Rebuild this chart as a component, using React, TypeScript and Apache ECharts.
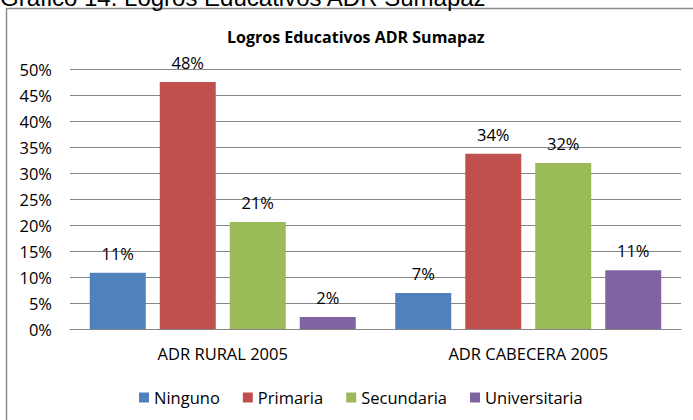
import React, { useEffect, useRef } from "react";
import * as echarts from "echarts";

const categories = ["ADR RURAL 2005", "ADR CABECERA 2005"];
const seriesNames = ["Ninguno", "Primaria", "Secundaria", "Universitaria"];
const ninguno = [0.108, 0.069];
const primaria = [0.475, 0.337];
const secundaria = [0.206, 0.319];
const universitaria = [0.023, 0.113];
const yTicks = [0, 0.05, 0.1, 0.15, 0.2, 0.25, 0.3, 0.35, 0.4, 0.45, 0.5];
const colors = ["#4F81BD", "#C0504D", "#9BBB59", "#8064A2"];

const FONT = "'Open Sans', 'Noto Sans', sans-serif";

export default function App() {
  const ref = useRef<HTMLDivElement>(null);
  useEffect(() => {
    if (!ref.current) return;
    const chart = echarts.init(ref.current, undefined, { renderer: "svg" });
    const values = [ninguno, primaria, secundaria, universitaria];
    chart.setOption({
      animation: false,
      backgroundColor: "#ffffff",
      textStyle: { fontFamily: FONT },
      title: {
        text: "Logros Educativos ADR Sumapaz",
        left: 222,
        top: 24,
        textStyle: { fontFamily: FONT, fontSize: 16, fontWeight: "bold", color: "#000" },
      },
      graphic: [
        {
          type: "rect",
          shape: { x: 6.5, y: 8.5, width: 720, height: 440 },
          style: { fill: "none", stroke: "#8c8c8c", lineWidth: 1.5 },
          silent: true,
        },
        {
          type: "text",
          x: 0,
          y: 9,
          style: {
            text: "Gráfico 14. Logros Educativos ADR Sumapaz",
            font: "24px Arial, 'Liberation Sans', sans-serif",
            fill: "#000",
            verticalAlign: "bottom",
            align: "left",
          },
          silent: true,
        },
      ],
      legend: {
        top: 384,
        left: 134,
        itemWidth: 10,
        itemHeight: 10,
        itemGap: 23,
        icon: "rect",
        textStyle: { fontFamily: FONT, fontSize: 16.5, color: "#000" },
        data: seriesNames,
      },
      grid: { left: 70, right: 12, top: 69, bottom: 91, containLabel: false },
      xAxis: {
        type: "category",
        data: categories,
        axisLine: { lineStyle: { color: "#868686", width: 1 } },
        axisTick: { show: false },
        axisLabel: { fontFamily: FONT, fontSize: 16.5, color: "#000", margin: 16 },
      },
      yAxis: {
        type: "value",
        min: yTicks[0],
        max: yTicks[yTicks.length - 1],
        interval: 0.05,
        axisLine: { show: false },
        axisTick: { show: false },
        splitLine: { lineStyle: { color: "#868686", width: 1 } },
        axisLabel: {
          fontFamily: FONT,
          fontSize: 16.5,
          color: "#000",
          margin: 18,
          formatter: (v: number) => Math.round(v * 100) + "%",
        },
      },
      series: seriesNames.map((name, i) => ({
        name,
        type: "bar",
        data: values[i],
        barWidth: 56,
        barGap: "25%",
        itemStyle: { color: colors[i] },
        label: {
          show: true,
          position: "top",
          distance: 11,
          fontFamily: FONT,
          fontSize: 16.5,
          color: "#000",
          formatter: (p: any) => Math.round(p.value * 100) + "%",
        },
      })),
    });
    return () => chart.dispose();
  }, []);
  return (
    <div
      ref={ref}
      style={{ position: "fixed", left: 0, top: 0, width: 693, height: 420 }}
    />
  );
}
